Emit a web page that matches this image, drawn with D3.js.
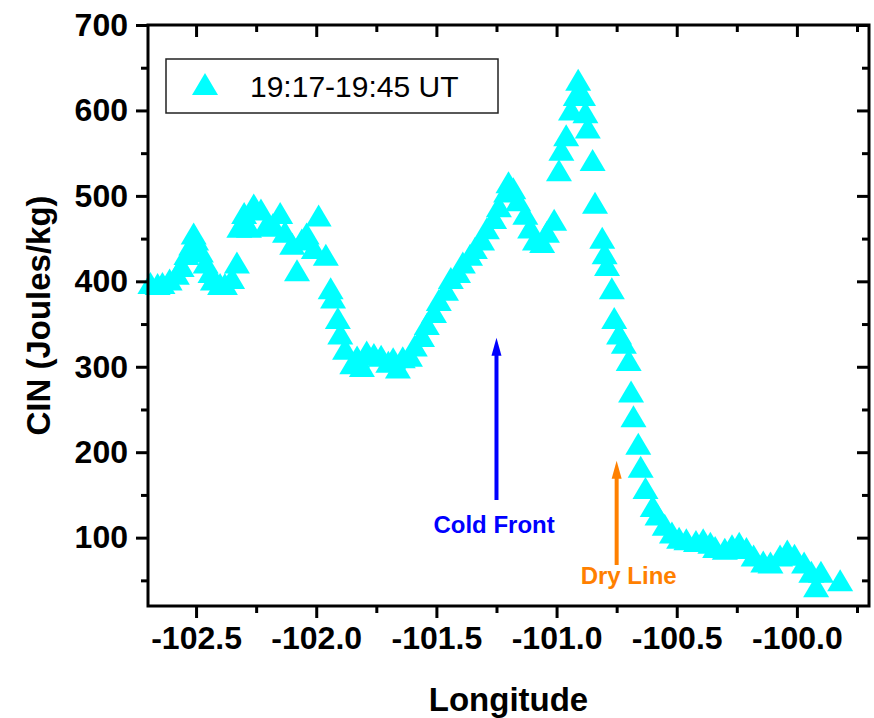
<!DOCTYPE html>
<html>
<head>
<meta charset="utf-8">
<script src="https://cdn.jsdelivr.net/npm/d3@7"></script>
<style>
  body { margin: 0; background: #fff; }
  text { font-family: "Liberation Sans", Arial, sans-serif; }
</style>
</head>
<body>
<div id="chart"></div>
<script>
// CIN data, one value per triangle
var longitude = [
  -102.69, -102.66, -102.64, -102.61, -102.58, -102.56, -102.54, -102.52, -102.51, -102.50,
  -102.48, -102.46, -102.44, -102.43, -102.40, -102.38, -102.35, -102.33, -102.32, -102.30,
  -102.28, -102.26, -102.23, -102.21, -102.18, -102.15, -102.13, -102.10, -102.08, -102.06,
  -102.04, -102.01, -101.99, -101.96, -101.94, -101.93, -101.91, -101.90, -101.88, -101.85,
  -101.83, -101.81, -101.79, -101.76, -101.73, -101.70, -101.68, -101.66, -101.64, -101.61,
  -101.59, -101.56, -101.54, -101.51, -101.49, -101.46, -101.44, -101.41, -101.39, -101.36,
  -101.34, -101.31, -101.29, -101.26, -101.24, -101.21, -101.20, -101.18, -101.16, -101.13,
  -101.11, -101.09, -101.06, -101.04, -101.01, -100.99, -100.98, -100.96, -100.94, -100.92,
  -100.91, -100.89, -100.88, -100.87, -100.85, -100.84, -100.81, -100.80, -100.79, -100.77,
  -100.76, -100.74, -100.72, -100.70, -100.69, -100.68, -100.66, -100.65, -100.63, -100.60,
  -100.58, -100.55, -100.52, -100.49, -100.46, -100.42, -100.39, -100.36, -100.34, -100.30,
  -100.27, -100.24, -100.21, -100.18, -100.14, -100.11, -100.07, -100.04, -100.01, -99.97,
  -99.94, -99.92, -99.90, -99.82
];
var cin = [
  398, 397, 398, 402, 409, 418, 432, 443, 456, 449,
  435, 422, 411, 402, 397, 397, 404, 422, 464, 480,
  464, 490, 484, 465, 467, 480, 458, 444, 413, 449,
  456, 439, 477, 431, 392, 381, 357, 339, 321, 304,
  312, 301, 318, 315, 313, 306, 310, 299, 311, 313,
  325, 336, 350, 364, 378, 390, 404, 411, 422, 431,
  439, 449, 462, 474, 488, 505, 516, 509, 495, 479,
  463, 449, 446, 458, 472, 530, 554, 571, 601, 618,
  636, 618, 598, 580, 542, 492, 451, 433, 419, 392,
  357, 339, 328, 308, 271, 242, 210, 183, 158, 137,
  127, 115, 106, 100, 98, 96, 98, 94, 89, 87,
  91, 94, 88, 79, 72, 71, 79, 85, 80, 71,
  60, 43, 60, 50
];

var xMajor = [-102.5, -102.0, -101.5, -101.0, -100.5, -100.0];
var xTickLabels = ["-102.5", "-102.0", "-101.5", "-101.0", "-100.5", "-100.0"];
var xMinor = [-102.25, -101.75, -101.25, -100.75, -100.25, -99.75];
var yMajor = [100, 200, 300, 400, 500, 600, 700];
var yMinor = [50, 150, 250, 350, 450, 550, 650];

var seriesName = "19:17-19:45 UT";
// annotations: label, longitude, arrow tail / tip CIN, label baseline CIN
var notes = [
  {label: "Cold Front", lon: -101.25, from: 144, to: 334, textLon: -101.26, textY: 106, color: "#0000ff"},
  {label: "Dry Line", lon: -100.75, from: 68, to: 190, textLon: -100.70, textY: 46, color: "#ff8000"}
];

var width = 874, height = 718;
var plotL = 148, plotR = 869, plotT = 25, plotB = 606;

var x = d3.scaleLinear().domain([-102.7, -99.7]).range([plotL, plotR]);
var y = d3.scaleLinear().domain([20, 700]).range([plotB, plotT]);

var svg = d3.select("#chart").append("svg")
  .attr("width", width)
  .attr("height", height);

// triangles, centred on the bounding box
var tri = "M0,-11L13,11L-13,11Z";

var points = longitude.map(function(d, i) { return {lon: d, v: cin[i]}; });

svg.append("g").selectAll("path")
  .data(points)
  .enter()
  .append("path")
  .attr("d", tri)
  .attr("fill", "#00ffff")
  .attr("transform", function(d) { return "translate(" + x(d.lon) + "," + y(d.v) + ")"; });

// arrows with labels
notes.forEach(function(n) {
  var ax = x(n.lon);
  svg.append("line")
    .attr("x1", ax).attr("x2", ax)
    .attr("y1", y(n.from)).attr("y2", y(n.to) + 14)
    .attr("stroke", n.color)
    .attr("stroke-width", 4);
  svg.append("path")
    .attr("d", "M" + (ax - 5) + "," + (y(n.to) + 18) + "L" + ax + "," + y(n.to) +
      "L" + (ax + 5) + "," + (y(n.to) + 18) + "Z")
    .attr("fill", n.color);
  svg.append("text")
    .attr("x", x(n.textLon)).attr("y", y(n.textY))
    .attr("text-anchor", "middle")
    .attr("font-size", 24)
    .attr("font-weight", "bold")
    .attr("fill", n.color)
    .text(n.label);
});

// axes
function styleAxis(g) {
  g.select(".domain").remove();
  g.selectAll("line").attr("stroke", "#000").attr("stroke-width", 3);
  g.selectAll("text").attr("font-size", 32).attr("font-weight", "bold")
    .attr("font-family", "Liberation Sans, Arial, sans-serif").attr("fill", "#000");
}

svg.append("g")
  .attr("transform", "translate(0," + plotB + ")")
  .call(d3.axisBottom(x).tickValues(xMajor).tickSize(12).tickPadding(8)
    .tickFormat(function(d, i) { return xTickLabels[i]; }))
  .call(styleAxis);
svg.append("g")
  .attr("transform", "translate(0," + plotB + ")")
  .call(d3.axisBottom(x).tickValues(xMinor).tickSize(7).tickFormat(""))
  .call(styleAxis);
svg.append("g")
  .attr("transform", "translate(" + plotL + ",0)")
  .call(d3.axisLeft(y).tickValues(yMajor).tickSize(12).tickPadding(8))
  .call(styleAxis);
svg.append("g")
  .attr("transform", "translate(" + plotL + ",0)")
  .call(d3.axisLeft(y).tickValues(yMinor).tickSize(7).tickFormat(""))
  .call(styleAxis);

// mirrored ticks on top and right, pointing inward
svg.append("g")
  .attr("transform", "translate(0," + plotT + ")")
  .call(d3.axisTop(x).tickValues(xMajor).tickSize(-12).tickFormat(""))
  .call(styleAxis);
svg.append("g")
  .attr("transform", "translate(0," + plotT + ")")
  .call(d3.axisTop(x).tickValues(xMinor).tickSize(-7).tickFormat(""))
  .call(styleAxis);
svg.append("g")
  .attr("transform", "translate(" + plotR + ",0)")
  .call(d3.axisRight(y).tickValues(yMajor).tickSize(-12).tickFormat(""))
  .call(styleAxis);
svg.append("g")
  .attr("transform", "translate(" + plotR + ",0)")
  .call(d3.axisRight(y).tickValues(yMinor).tickSize(-7).tickFormat(""))
  .call(styleAxis);

svg.append("rect")
  .attr("x", plotL).attr("y", plotT)
  .attr("width", plotR - plotL).attr("height", plotB - plotT)
  .attr("fill", "none")
  .attr("stroke", "#000")
  .attr("stroke-width", 3);

// axis titles
svg.append("text")
  .attr("x", (plotL + plotR) / 2).attr("y", 711)
  .attr("text-anchor", "middle")
  .attr("font-size", 33).attr("font-weight", "bold")
  .text("Longitude");
svg.append("text")
  .attr("transform", "translate(50," + ((plotT + plotB) / 2) + ") rotate(-90)")
  .attr("text-anchor", "middle")
  .attr("font-size", 33).attr("font-weight", "bold")
  .text("CIN (Joules/kg)");

// legend
var legend = svg.append("g");
legend.append("rect")
  .attr("x", 166).attr("y", 59)
  .attr("width", 332).attr("height", 54)
  .attr("fill", "#fff")
  .attr("stroke", "#222")
  .attr("stroke-width", 1.5);
legend.append("path")
  .attr("d", tri)
  .attr("fill", "#00ffff")
  .attr("transform", "translate(205,84)");
legend.append("text")
  .attr("x", 250).attr("y", 97)
  .attr("font-size", 30)
  .text(seriesName);
</script>
</body>
</html>
